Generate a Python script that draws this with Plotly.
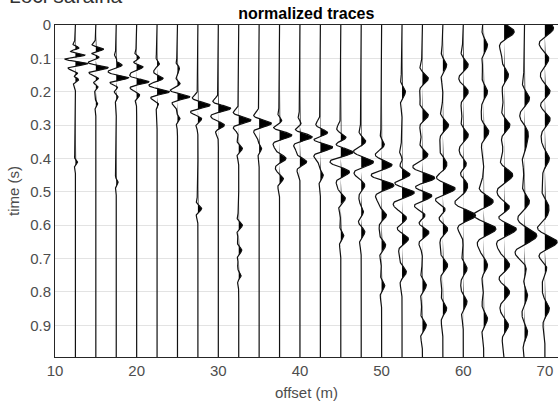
import numpy as np
import plotly.graph_objects as go

# trace offsets (m)
offsets = [12.5, 15, 17.5, 20, 22.5, 25, 27.5, 30, 32.5, 35, 37.5, 40,
           42.5, 45, 47.5, 50, 52.5, 55, 57.5, 60, 62.5, 65, 67.5, 70]
# dominant frequency per trace (Hz)
freqs = [28, 26, 24, 22, 21, 20, 18, 18, 17, 16, 15, 15,
         14, 13, 12, 12, 11, 11, 10, 10, 9, 9, 8, 8]
# picked events per trace: times (s)
event_times = [
    [0.07, 0.09, 0.115, 0.145, 0.163, 0.41],
    [0.073, 0.095, 0.128, 0.16, 0.185, 0.235],
    [0.103, 0.12, 0.158, 0.185, 0.215, 0.47],
    [0.10, 0.125, 0.17, 0.21],
    [0.115, 0.16, 0.20, 0.235],
    [0.13, 0.15, 0.175, 0.215, 0.28],
    [0.24, 0.28, 0.55],
    [0.25, 0.30],
    [0.285, 0.37, 0.60, 0.675, 0.75],
    [0.295, 0.37],
    [0.29, 0.33, 0.40, 0.46],
    [0.30, 0.335, 0.41],
    [0.325, 0.365, 0.45],
    [0.34, 0.38, 0.44, 0.52, 0.63],
    [0.35, 0.41, 0.48, 0.56, 0.62],
    [0.36, 0.42, 0.48, 0.57, 0.66, 0.78],
    [0.20, 0.41, 0.45, 0.50, 0.58, 0.64, 0.74],
    [0.16, 0.27, 0.39, 0.46, 0.51, 0.57, 0.62, 0.78, 0.9],
    [0.12, 0.30, 0.41, 0.44, 0.49, 0.55, 0.61, 0.72, 0.85],
    [0.12, 0.20, 0.33, 0.42, 0.47, 0.50, 0.57, 0.73, 0.83],
    [0.06, 0.20, 0.32, 0.53, 0.61, 0.72, 0.88],
    [0.02, 0.15, 0.30, 0.45, 0.55, 0.61, 0.72, 0.80, 0.90],
    [0.22, 0.32, 0.36, 0.53, 0.63, 0.685, 0.81, 0.92],
    [0.01, 0.10, 0.20, 0.28, 0.40, 0.54, 0.58, 0.65, 0.72, 0.85],
]
# picked events per trace: normalized amplitudes
event_amps = [
    [0.4, 0.8, 0.9, 0.25, 0.3, 0.15],
    [0.7, 0.4, 1.0, 0.25, 0.2, 0.15],
    [0.3, 0.6, 1.0, 0.2, 0.15, 0.15],
    [0.35, 0.6, 1.0, 0.25],
    [0.2, 0.5, 1.0, 0.15],
    [0.25, 0.2, 0.3, 1.0, 0.2],
    [1.0, 0.35, 0.3],
    [1.0, 0.5],
    [1.0, 0.3, 0.3, 0.25, 0.2],
    [1.0, 0.2],
    [0.3, 1.0, 0.5, 0.3],
    [0.3, 1.0, 0.5],
    [0.7, 1.0, 0.2],
    [0.6, 1.0, 0.6, 0.3, 0.2],
    [0.4, 1.0, 0.3, 0.2, 0.3],
    [0.2, 0.7, 0.8, 0.3, 0.25, 0.2],
    [0.2, 0.3, 0.8, 0.9, 0.3, 0.4, 0.25],
    [0.3, 0.3, 0.3, 0.8, 0.7, 0.3, 0.4, 0.2, 0.2],
    [0.2, 0.3, 0.3, 0.3, 0.8, 0.3, 0.3, 0.25, 0.2],
    [0.4, 0.4, 0.4, 0.4, 0.5, 0.4, 1.0, 0.3, 0.3],
    [0.3, 0.3, 0.4, 0.8, 1.0, 0.3, 0.3],
    [0.7, 0.3, 0.4, 0.6, 0.6, 1.0, 0.4, 0.4, 0.3],
    [0.5, 0.5, 0.4, 0.5, 1.0, -0.5, 0.3, 0.3],
    [0.6, 0.3, 0.4, 0.4, 0.3, 0.4, 0.4, 1.0, 0.3, 0.3],
]

x_ticks = [10, 20, 30, 40, 50, 60, 70]
y_ticks = [0, 0.1, 0.2, 0.3, 0.4, 0.5, 0.6, 0.7, 0.8, 0.9]
y_tick_text = ["0", "0.1", "0.2", "0.3", "0.4", "0.5", "0.6", "0.7", "0.8", "0.9"]

gain = 1.5
t = np.arange(0.0, 1.0005, 0.001)


def ricker(tt, t0, f):
    a = (np.pi * f * (tt - t0)) ** 2
    return (1 - 2 * a) * np.exp(-a)


fig = go.Figure()
for off, f, ts, amps in zip(offsets, freqs, event_times, event_amps):
    s = np.zeros_like(t)
    for t0, a in zip(ts, amps):
        s += a * ricker(t, t0, f)
    m = np.max(np.abs(s))
    s = s / m
    xs = off + gain * s
    xpos = off + gain * np.clip(s, 0, None)
    poly_x = np.concatenate([xpos, np.full(len(t), off)])
    poly_y = np.concatenate([t, t[::-1]])
    fig.add_trace(go.Scatter(x=poly_x, y=poly_y, mode="lines", fill="toself",
                             fillcolor="black", line=dict(width=0),
                             hoverinfo="skip", showlegend=False))
    fig.add_trace(go.Scatter(x=xs, y=t, mode="lines",
                             line=dict(color="#111111", width=1.2),
                             hoverinfo="skip", showlegend=False))

FONT = "Liberation Sans, Arial, sans-serif"
tick_font = dict(family=FONT, size=15, color="#4d4d4d")
title_font = dict(family=FONT, size=15, color="#4d4d4d")

fig.update_layout(
    width=558, height=405,
    margin=dict(l=55, r=0, t=25, b=48),
    paper_bgcolor="white", plot_bgcolor="white",
    title=dict(text="<b>normalized traces</b>", x=0.549, xanchor="center",
               y=0.967, yanchor="middle",
               font=dict(family=FONT, size=16, color="black")),
    xaxis=dict(range=[10, 71.6], tickvals=x_ticks, ticks="", showgrid=True,
               gridcolor="#e3e3e3", zeroline=False, showline=True, linecolor="#262626",
               linewidth=1, mirror=True, tickfont=tick_font,
               title=dict(text="offset (m)", font=title_font, standoff=9)),
    yaxis=dict(range=[0.995, 0], tickvals=y_ticks, ticktext=y_tick_text, ticks="",
               showgrid=True, gridcolor="#e3e3e3", zeroline=False, showline=True,
               linecolor="#262626", linewidth=1, mirror=True, tickfont=tick_font,
               title=dict(text="time (s)", font=title_font, standoff=6)),
    annotations=[dict(text="Loci saraina", xref="paper", yref="paper",
                      x=-0.095, y=1.048, xanchor="left", yanchor="bottom",
                      showarrow=False,
                      font=dict(family=FONT, size=21, color="#333333"))],
)

fig.write_html("out.html")
